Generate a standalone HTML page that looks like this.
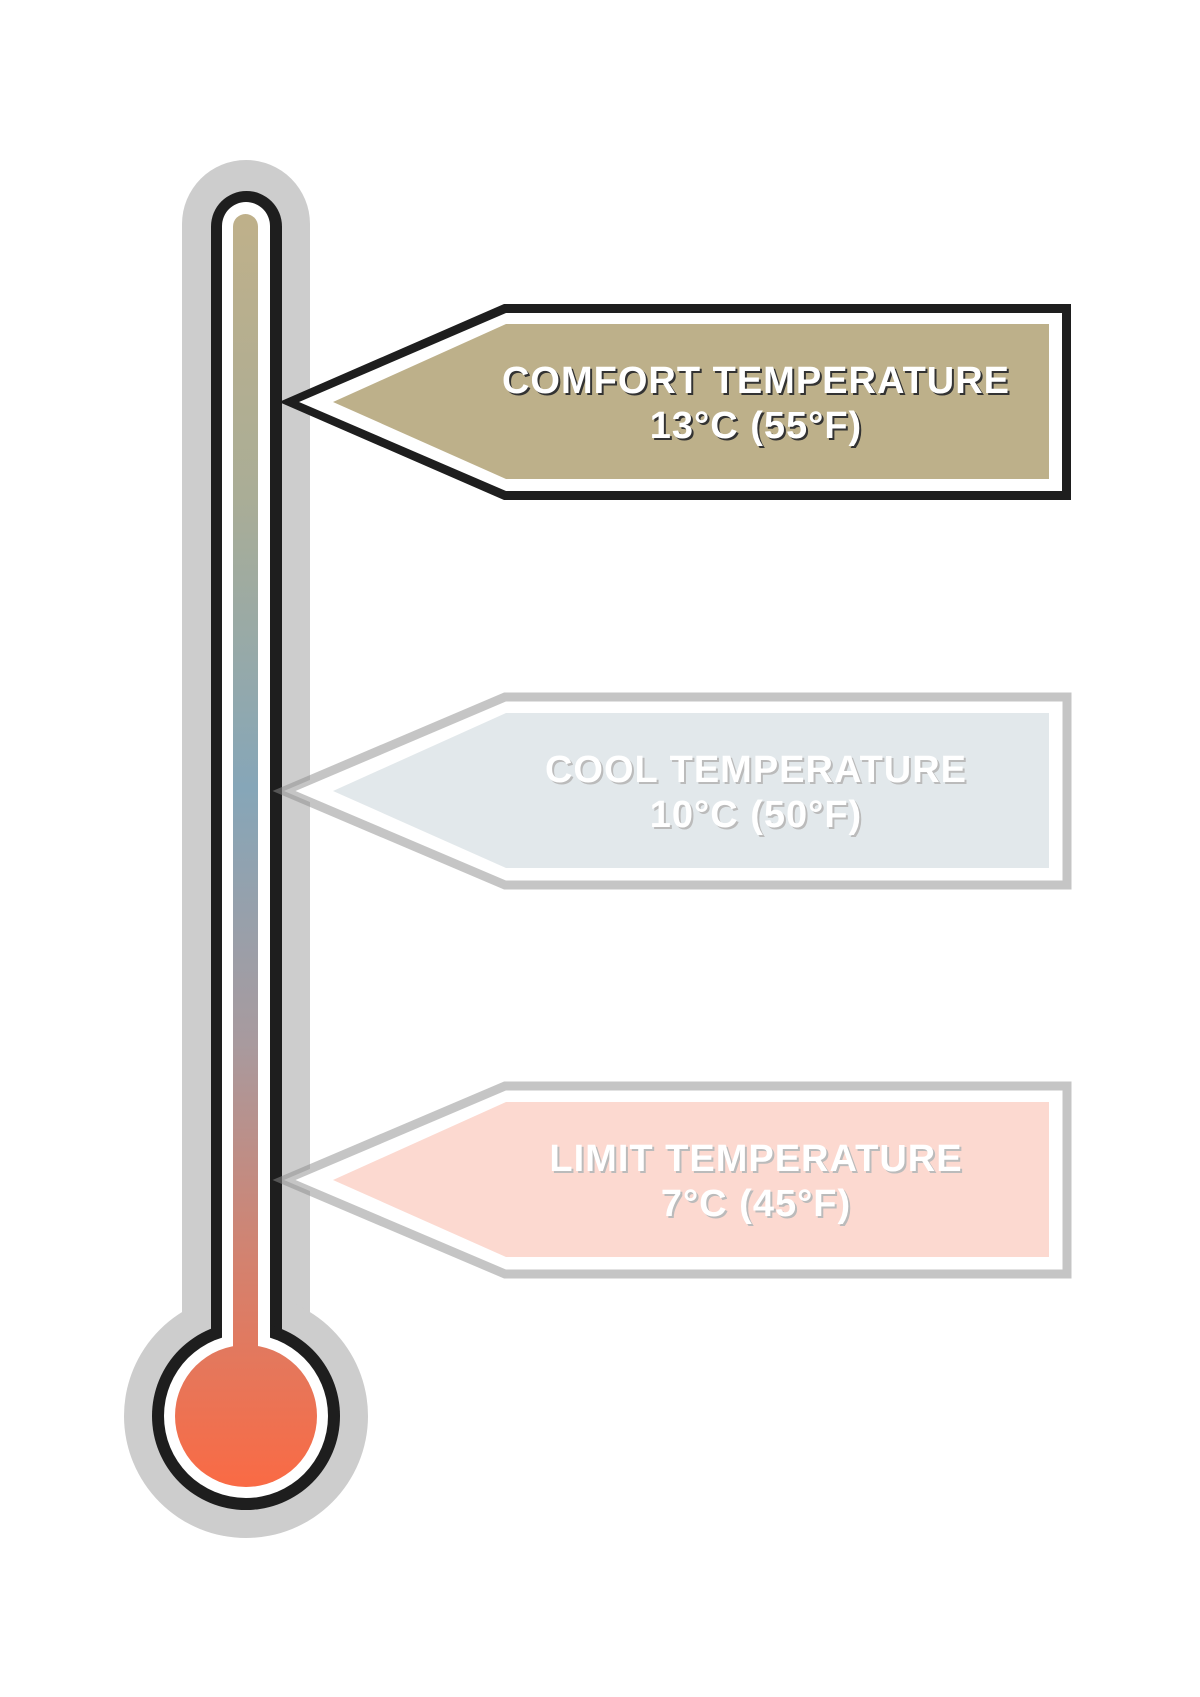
<!DOCTYPE html>
<html><head><meta charset="utf-8"><style>html,body{margin:0;padding:0;background:#fff}svg{display:block}</style></head>
<body>
<svg width="1200" height="1697" viewBox="0 0 1200 1697" xmlns="http://www.w3.org/2000/svg">
<defs>
<linearGradient id="m" gradientUnits="userSpaceOnUse" x1="0" y1="214" x2="0" y2="1490">
<stop offset="0" stop-color="#bfb08a"/>
<stop offset="0.22" stop-color="#aaad96"/>
<stop offset="0.45" stop-color="#86a6b8"/>
<stop offset="0.65" stop-color="#a89a9e"/>
<stop offset="0.82" stop-color="#d3826f"/>
<stop offset="1" stop-color="#fa6a44"/>
</linearGradient>
</defs>
<rect x="182" y="160" width="128" height="1260" rx="64" fill="#cdcdcd"/>
<circle cx="246" cy="1416" r="122" fill="#cdcdcd"/>
<rect x="211" y="191" width="71" height="1200" rx="35.5" fill="#1e1e1e"/>
<circle cx="246" cy="1416" r="94" fill="#1e1e1e"/>
<rect x="222" y="202" width="48" height="1200" rx="24" fill="#fff"/>
<circle cx="246" cy="1416" r="82" fill="#fff"/>
<rect x="233" y="214" width="25" height="1200" rx="12.5" fill="url(#m)"/>
<circle cx="246" cy="1416" r="71" fill="url(#m)"/>

<g transform="translate(-7,-5)">
<polygon points="286,407 511,309 1078,309 1078,505 511,505" fill="#1e1e1e"/>
<polygon points="306,407 513,318 1069,318 1069,496 513,496" fill="#fff"/>
<polygon points="340,407 513,329 1056,329 1056,484 513,484" fill="#bdb08a"/>
<g font-family="Liberation Sans, sans-serif" font-weight="bold" font-size="38" letter-spacing="1" text-anchor="middle">
<text x="765" y="400" fill="#333">COMFORT TEMPERATURE</text>
<text x="765" y="445" fill="#333">13°C (55°F)</text>
<text x="763" y="398" fill="#fff">COMFORT TEMPERATURE</text>
<text x="763" y="443" fill="#fff">13°C (55°F)</text>
</g>

<polygon points="291,796 512,702 1074,702 1074,890 512,890" fill="#fff" stroke="rgba(140,140,140,0.5)" stroke-width="9"/>
<polygon points="340,796 513,718 1056,718 1056,873 513,873" fill="#e2e8eb"/>
<g font-family="Liberation Sans, sans-serif" font-weight="bold" font-size="38" letter-spacing="1" text-anchor="middle">
<text x="765" y="789" fill="#bbb">COOL TEMPERATURE</text>
<text x="765" y="834" fill="#bbb">10°C (50°F)</text>
<text x="763" y="787" fill="#fff">COOL TEMPERATURE</text>
<text x="763" y="832" fill="#fff">10°C (50°F)</text>
</g>

<polygon points="291,1185 512,1091 1074,1091 1074,1279 512,1279" fill="#fff" stroke="rgba(140,140,140,0.5)" stroke-width="9"/>
<polygon points="340,1185 513,1107 1056,1107 1056,1262 513,1262" fill="#fcd9d0"/>
<g font-family="Liberation Sans, sans-serif" font-weight="bold" font-size="38" letter-spacing="1" text-anchor="middle">
<text x="765" y="1178" fill="#bbb">LIMIT TEMPERATURE</text>
<text x="765" y="1223" fill="#bbb">7°C (45°F)</text>
<text x="763" y="1176" fill="#fff">LIMIT TEMPERATURE</text>
<text x="763" y="1221" fill="#fff">7°C (45°F)</text>
</g>
</g>
</svg>
</body></html>
